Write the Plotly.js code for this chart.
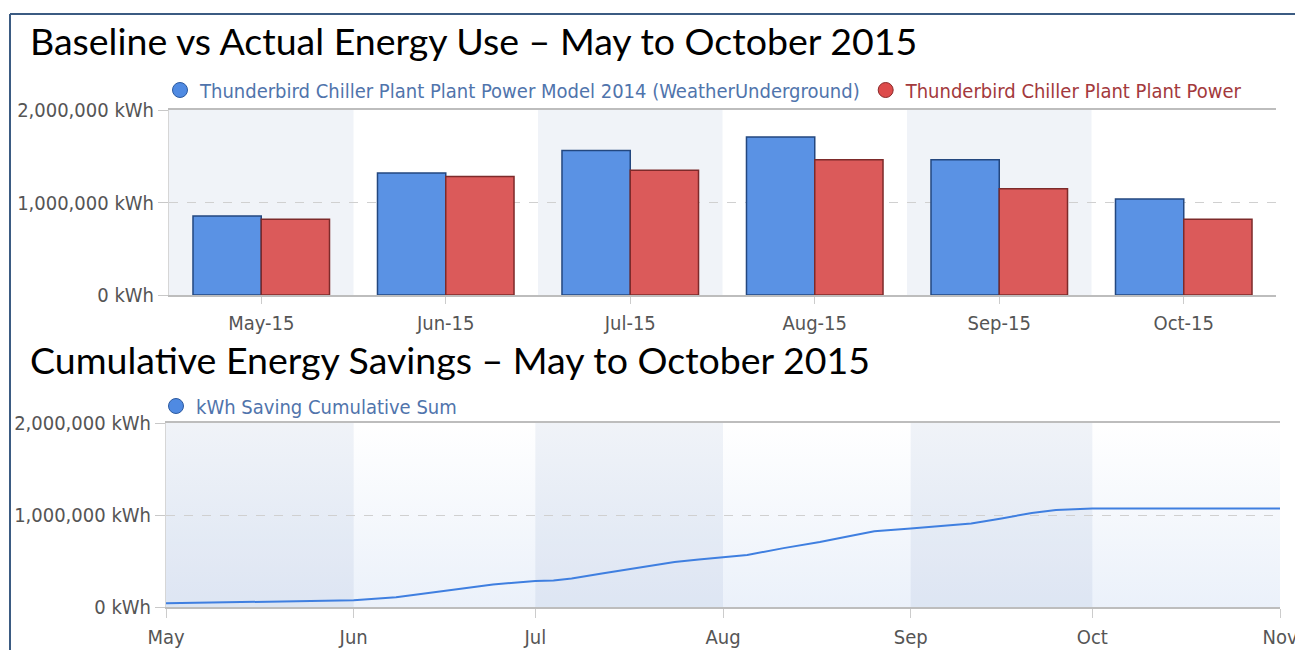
<!DOCTYPE html>
<html>
<head>
<meta charset="utf-8">
<script src="https://cdn.plot.ly/plotly-3.0.1.min.js"></script>
<style>html,body{margin:0;padding:0;background:#fff;}#chart{width:1295px;height:650px;}</style>
</head>
<body>
<div id="chart"></div>
<script>
// ---- data ----
const months = ['May-15','Jun-15','Jul-15','Aug-15','Sep-15','Oct-15'];
const baselineKWh = [854000, 1320000, 1563000, 1708000, 1461000, 1039000];
const actualKWh   = [818000, 1280000, 1349000, 1461000, 1148000, 818000];

const savingDates = ['2015-05-01','2015-05-09','2015-05-18','2015-05-25','2015-06-01','2015-06-08','2015-06-14','2015-06-19','2015-06-24','2015-07-01','2015-07-04','2015-07-07','2015-07-12','2015-07-18','2015-07-24','2015-07-28','2015-08-01','2015-08-05','2015-08-11','2015-08-17','2015-08-22','2015-08-26','2015-09-01','2015-09-05','2015-09-11','2015-09-16','2015-09-21','2015-09-25','2015-09-29','2015-10-01','2015-10-15','2015-11-01'];
const savingCumKWh = [40000,48000,59000,66000,73000,106000,154000,200000,245000,282000,289000,311000,363000,430000,490000,515000,537000,566000,640000,706000,772000,824000,853000,875000,908000,963000,1022000,1055000,1070000,1070000,1070000,1070000];

const seriesNames = ['Thunderbird Chiller Plant Plant Power Model 2014 (WeatherUnderground)', 'Thunderbird Chiller Plant Plant Power'];
const lineName = 'kWh Saving Cumulative Sum';
const title1 = 'Baseline vs Actual Energy Use \u2013 May to October 2015';
const title2 = 'Cumulative Energy Savings \u2013 May to October 2015';

// ---- layout constants ----
const W = 1295, H = 650;
const px = v => v / W, py = v => 1 - v / H;
const tickFont = {family: 'DejaVu Sans Condensed, DejaVu Sans, sans-serif', size: 20, color: '#555'};
const BLUE = '#5a92e4', BLUE_LINE = '#23477f', RED = '#db5a5a', RED_LINE = '#7d2a2a';
const BAND = 'rgba(40,80,150,0.07)';

const traces = [
  {type: 'bar', x: months, y: baselineKWh, name: seriesNames[0], showlegend: false, xaxis: 'x', yaxis: 'y',
   marker: {color: BLUE, line: {color: BLUE_LINE, width: 1.5}}, hoverinfo: 'skip'},
  {type: 'bar', x: months, y: actualKWh, name: seriesNames[1], showlegend: false, xaxis: 'x', yaxis: 'y',
   marker: {color: RED, line: {color: RED_LINE, width: 1.5}}, hoverinfo: 'skip'},
  {type: 'scatter', mode: 'lines', x: savingDates, y: savingCumKWh, name: lineName, showlegend: false,
   xaxis: 'x2', yaxis: 'y2', line: {color: '#3f7fe0', width: 2}, hoverinfo: 'skip'},
  // legend entries (circle symbols)
  {type: 'scatter', mode: 'markers', x: [null], y: [null], xaxis: 'x', yaxis: 'y', legend: 'legend',
   name: '<span style="color:#5074ac">' + seriesNames[0] + '</span>',
   marker: {symbol: 'circle', size: 15, color: '#4f8ae2', line: {color: '#2c5aa0', width: 1}}},
  {type: 'scatter', mode: 'markers', x: [null], y: [null], xaxis: 'x', yaxis: 'y', legend: 'legend',
   name: '<span style="color:#a3393c">' + seriesNames[1] + '</span>',
   marker: {symbol: 'circle', size: 15, color: '#dd4b4b', line: {color: '#8a2a2a', width: 1}}},
  {type: 'scatter', mode: 'markers', x: [null], y: [null], xaxis: 'x2', yaxis: 'y2', legend: 'legend2',
   name: '<span style="color:#5074ac">' + lineName + '</span>',
   marker: {symbol: 'circle', size: 15, color: '#4f8ae2', line: {color: '#2c5aa0', width: 1}}}
];

const gradSvg = "<svg xmlns='http://www.w3.org/2000/svg' width='10' height='100' viewBox='0 0 10 100' preserveAspectRatio='none'><defs><linearGradient id='g' x1='0' y1='0' x2='0' y2='1'><stop offset='0' stop-color='#ffffff'/><stop offset='1' stop-color='#ebf1fa'/></linearGradient></defs><rect width='10' height='100' fill='url(#g)'/></svg>";
const gradUri = 'data:image/svg+xml;charset=utf-8,' + encodeURIComponent(gradSvg);

const shapes = [];
[0, 2, 4].forEach(i => shapes.push({type: 'rect', xref: 'x', yref: 'y domain', x0: i - 0.5, x1: i + 0.5, y0: 0, y1: 1,
  fillcolor: BAND, line: {width: 0}, layer: 'below'}));
[['2015-05-01','2015-06-01'], ['2015-07-01','2015-08-01'], ['2015-09-01','2015-10-01']].forEach(b =>
  shapes.push({type: 'rect', xref: 'x2', yref: 'y2 domain', x0: b[0], x1: b[1], y0: 0, y1: 1,
  fillcolor: BAND, line: {width: 0}, layer: 'below'}));
// outer frame
shapes.push({type: 'line', xref: 'paper', yref: 'paper', x0: px(10), x1: 1, y0: py(14), y1: py(14), line: {color: '#3b5b82', width: 2}});
shapes.push({type: 'line', xref: 'paper', yref: 'paper', x0: px(10), x1: px(10), y0: 0, y1: py(14), line: {color: '#3b5b82', width: 2}});

const yCommon = {range: [0, 2000000], dtick: 1000000, tick0: 0, tickformat: ',d', ticksuffix: ' kWh',
  showgrid: true, gridcolor: '#d0d0d0', griddash: 'dash', gridwidth: 1, zeroline: false,
  showline: true, linecolor: '#d6d6d6', linewidth: 1, ticks: 'outside', ticklen: 10, tickcolor: '#c8c8c8',
  tickfont: tickFont, automargin: false, fixedrange: true};

const layout = {
  width: W, height: H, margin: {l: 0, r: 0, t: 0, b: 0},
  paper_bgcolor: '#ffffff', plot_bgcolor: 'rgba(0,0,0,0)',
  barmode: 'group', bargap: 0.26, bargroupgap: 0,
  font: tickFont,
  xaxis: {domain: [px(169), px(1276)], anchor: 'y', type: 'category', range: [-0.5, 5.5],
    showgrid: false, showline: true, mirror: true, linecolor: '#bdbdbd', linewidth: 2,
    ticks: 'outside', ticklen: 7, tickcolor: '#cccccc', ticklabelstandoff: 2, ticklabeloverflow: 'allow',
    tickfont: tickFont, automargin: false, fixedrange: true},
  yaxis: Object.assign({}, yCommon, {domain: [py(295), py(110)], anchor: 'x'}),
  xaxis2: {domain: [px(166), px(1280)], anchor: 'y2', type: 'date', range: ['2015-05-01', '2015-11-01'],
    dtick: 'M1', tick0: '2015-05-01', tickformat: '%b',
    showgrid: false, showline: true, mirror: true, linecolor: '#bdbdbd', linewidth: 2,
    ticks: 'outside', ticklen: 9, tickcolor: '#cccccc', ticklabelstandoff: 2, ticklabeloverflow: 'allow',
    tickfont: tickFont, automargin: false, fixedrange: true},
  yaxis2: Object.assign({}, yCommon, {domain: [py(607), py(423)], anchor: 'x2'}),
  legend: {orientation: 'h', x: px(160), xanchor: 'left', y: py(90), yanchor: 'middle',
    bgcolor: 'rgba(0,0,0,0)', font: {family: tickFont.family, size: 20, color: '#5074ac'}, itemwidth: 30, tracegroupgap: 0},
  legend2: {orientation: 'h', x: px(156), xanchor: 'left', y: py(406), yanchor: 'middle',
    bgcolor: 'rgba(0,0,0,0)', font: {family: tickFont.family, size: 20, color: '#5074ac'}, itemwidth: 30},
  images: [{source: gradUri, xref: 'paper', yref: 'paper', x: px(166), y: py(423), sizex: px(1280) - px(166),
    sizey: py(423) - py(607), xanchor: 'left', yanchor: 'top', sizing: 'stretch', layer: 'below'}],
  shapes: shapes,
  annotations: [
    {text: title1, xref: 'paper', yref: 'paper', x: px(28), y: py(41), xanchor: 'left', yanchor: 'middle', showarrow: false,
     font: {family: 'Lato, Open Sans, sans-serif', size: 37.5, color: '#000'}},
    {text: title2, xref: 'paper', yref: 'paper', x: px(28), y: py(359), xanchor: 'left', yanchor: 'middle', showarrow: false,
     font: {family: 'Lato, Open Sans, sans-serif', size: 37.5, color: '#000'}}
  ]
};

Plotly.newPlot('chart', traces, layout, {staticPlot: true, displayModeBar: false});
</script>
</body>
</html>
